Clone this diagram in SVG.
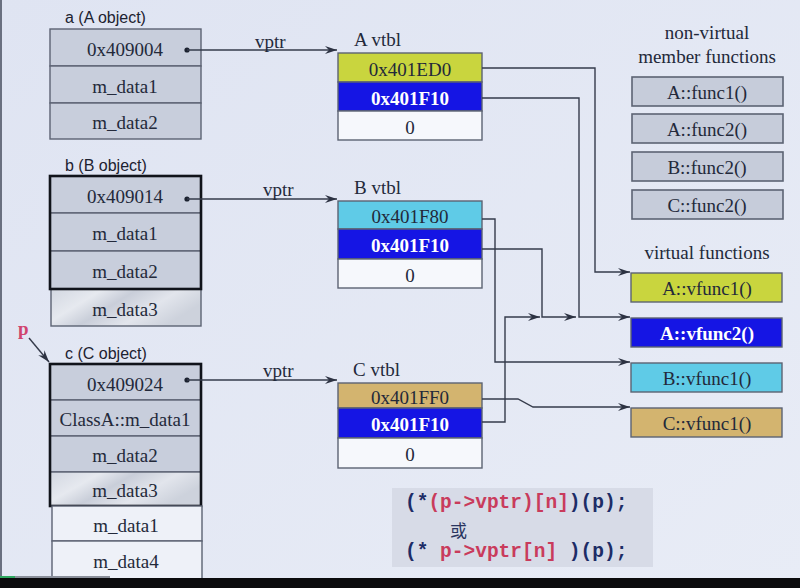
<svg xmlns="http://www.w3.org/2000/svg" width="800" height="588" viewBox="0 0 800 588">
<style>
.lbl{font-family:"Liberation Sans",Arial,sans-serif;font-size:16px;fill:#1c2230}
.t{font-family:"Liberation Serif","Times New Roman",serif;font-size:19px;fill:#23293a;text-anchor:middle;dominant-baseline:central}
.tb{font-family:"Liberation Serif","Times New Roman",serif;font-size:19px;font-weight:bold;fill:#ffffff;text-anchor:middle;dominant-baseline:central}
.hd{font-family:"Liberation Serif","Times New Roman",serif;font-size:19px;fill:#23293a}
.cell{fill:#c8cedc;stroke:#5c6373;stroke-width:1.4}
.tex{fill:url(#marble);stroke:#5c6373;stroke-width:1.4}
.wcell{fill:#eef1f8;stroke:#5c6373;stroke-width:1.4}
.thick{fill:none;stroke:#10131a;stroke-width:2.6}
.yg{fill:#c9d53e;stroke:#5c6373;stroke-width:1.4}
.bl{fill:#1515e4;stroke:#5c6373;stroke-width:1.4}
.cy{fill:#5fcbe7;stroke:#5c6373;stroke-width:1.4}
.tan{fill:#d3b46f;stroke:#5c6373;stroke-width:1.4}
.wh{fill:#f6f8fc;stroke:#5c6373;stroke-width:1.4}
.fn{fill:#c6ccda;stroke:#5c6373;stroke-width:1.6}
.ln{fill:none;stroke:#353b4b;stroke-width:1.4}
.code{font-family:"Liberation Mono","Courier New",monospace;font-size:19.5px;font-weight:bold;white-space:pre}
.nv{fill:#1d2c66}
.rd{fill:#c93b5c}
</style>
<defs>
<linearGradient id="bg" x1="0" y1="0" x2="1" y2="1">
<stop offset="0" stop-color="#dfe4f2"/>
<stop offset="1" stop-color="#e8ecf6"/>
</linearGradient>
<linearGradient id="marble" x1="0" y1="0" x2="1" y2="0.4">
<stop offset="0" stop-color="#d2d7e1"/>
<stop offset="0.3" stop-color="#e6e9ef"/>
<stop offset="0.5" stop-color="#c9ced9"/>
<stop offset="0.75" stop-color="#e2e5ec"/>
<stop offset="1" stop-color="#cdd2dc"/>
</linearGradient>
<marker id="ah" markerUnits="userSpaceOnUse" markerWidth="13" markerHeight="9" refX="12" refY="4.5" orient="auto">
<path d="M0,0.5 L12,4.5 L0,8.5 L4,4.5 z" fill="#2c3242"/>
</marker>
</defs>
<rect width="800" height="588" fill="url(#bg)"/>
<rect x="0" y="0" width="2" height="578" fill="#6a7080"/>

<g id="a-object">
<text class="lbl" x="65" y="23">a (A object)</text>
<rect class="cell" x="50" y="29" width="151" height="37"/>
<rect class="cell" x="50" y="66" width="151" height="37"/>
<rect class="cell" x="50" y="103" width="151" height="36"/>
<text class="t" x="125" y="49">0x409004</text>
<text class="t" x="125" y="86">m_data1</text>
<text class="t" x="125" y="122">m_data2</text>
<circle cx="187" cy="50" r="2.6" fill="#1c2230"/>
</g>

<g id="b-object">
<text class="lbl" x="65" y="171">b (B object)</text>
<rect class="cell" x="50" y="176" width="151" height="37"/>
<rect class="cell" x="50" y="213" width="151" height="38"/>
<rect class="cell" x="50" y="251" width="151" height="38"/>
<rect class="tex" x="51" y="289" width="150" height="37"/>
<rect class="thick" x="50" y="176" width="151" height="113"/>
<text class="t" x="125" y="196">0x409014</text>
<text class="t" x="125" y="233">m_data1</text>
<text class="t" x="125" y="271">m_data2</text>
<text class="t" x="125" y="309">m_data3</text>
<circle cx="187" cy="199" r="2.6" fill="#1c2230"/>
</g>

<g id="p-pointer">
<text x="18" y="335" font-family="Liberation Serif,serif" font-size="19" font-weight="bold" fill="#d0446e">p</text>
<path class="ln" d="M29,338 L49,362" marker-end="url(#ah)"/>
</g>

<g id="c-object">
<text class="lbl" x="65" y="359">c (C object)</text>
<rect class="cell" x="50" y="364" width="151" height="36"/>
<rect class="cell" x="50" y="400" width="151" height="36"/>
<rect class="cell" x="50" y="436" width="151" height="36"/>
<rect class="tex" x="50" y="472" width="151" height="34"/>
<rect class="thick" x="50" y="364" width="151" height="142"/>
<rect class="wcell" x="52" y="506" width="150" height="35"/>
<rect class="wcell" x="52" y="541" width="150" height="40"/>
<text class="t" x="125" y="384">0x409024</text>
<text class="t" x="125" y="419">ClassA::m_data1</text>
<text class="t" x="125" y="455">m_data2</text>
<text class="t" x="125" y="490">m_data3</text>
<text class="t" x="126" y="525">m_data1</text>
<text class="t" x="126" y="561">m_data4</text>
<circle cx="187" cy="380" r="2.6" fill="#1c2230"/>
</g>

<g id="a-vtbl">
<text class="hd" x="354" y="46">A vtbl</text>
<rect class="yg" x="338" y="53" width="144" height="29"/>
<rect class="bl" x="338" y="82" width="144" height="29"/>
<rect class="wh" x="338" y="111" width="144" height="29"/>
<text class="t" x="410" y="69">0x401ED0</text>
<text class="tb" x="410" y="98">0x401F10</text>
<text class="t" x="410" y="127">0</text>
</g>

<g id="b-vtbl">
<text class="hd" x="354" y="194">B vtbl</text>
<rect class="cy" x="338" y="201" width="144" height="28"/>
<rect class="bl" x="338" y="229" width="144" height="30"/>
<rect class="wh" x="338" y="259" width="144" height="29"/>
<text class="t" x="410" y="216">0x401F80</text>
<text class="tb" x="410" y="245">0x401F10</text>
<text class="t" x="410" y="275">0</text>
</g>

<g id="c-vtbl">
<text class="hd" x="353" y="376">C vtbl</text>
<rect class="tan" x="338" y="383" width="144" height="25"/>
<rect class="bl" x="338" y="408" width="144" height="30"/>
<rect class="wh" x="338" y="438" width="144" height="30"/>
<text class="t" x="410" y="397">0x401FF0</text>
<text class="tb" x="410" y="424">0x401F10</text>
<text class="t" x="410" y="454">0</text>
</g>

<g id="non-virtual">
<text class="hd" x="707" y="39" text-anchor="middle">non-virtual</text>
<text class="hd" x="707" y="63" text-anchor="middle">member functions</text>
<rect class="fn" x="632" y="77" width="151" height="29"/>
<rect class="fn" x="632" y="114" width="151" height="29"/>
<rect class="fn" x="632" y="152" width="151" height="29"/>
<rect class="fn" x="632" y="190" width="151" height="29"/>
<text class="t" x="707" y="92">A::func1()</text>
<text class="t" x="707" y="129">A::func2()</text>
<text class="t" x="707" y="167">B::func2()</text>
<text class="t" x="707" y="205">C::func2()</text>
</g>

<g id="virtual">
<text class="hd" x="707" y="259" text-anchor="middle">virtual functions</text>
<rect class="yg" x="631" y="273" width="151" height="29"/>
<rect class="bl" x="631" y="318" width="151" height="29"/>
<rect class="cy" x="631" y="363" width="151" height="29"/>
<rect class="tan" x="631" y="408" width="151" height="29"/>
<text class="t" x="707" y="288">A::vfunc1()</text>
<text class="tb" x="707" y="333">A::vfunc2()</text>
<text class="t" x="707" y="378">B::vfunc1()</text>
<text class="t" x="707" y="423">C::vfunc1()</text>
</g>

<g id="connectors">
<path class="ln" d="M187,50 H337" marker-end="url(#ah)"/>
<text class="hd" x="255" y="48">vptr</text>
<path class="ln" d="M187,199 H337" marker-end="url(#ah)"/>
<text class="hd" x="263" y="196">vptr</text>
<path class="ln" d="M187,380 H337" marker-end="url(#ah)"/>
<text class="hd" x="263" y="377">vptr</text>
<path class="ln" d="M482,68 H595 V272 H630" marker-end="url(#ah)"/>
<path class="ln" d="M482,98 H579 V317 H630" marker-end="url(#ah)"/>
<path class="ln" d="M482,219 H495 V362 H630" marker-end="url(#ah)"/>
<path class="ln" d="M482,249 H542 V317 H576" marker-end="url(#ah)"/>
<path class="ln" d="M482,399 H518 L533,407 H630" marker-end="url(#ah)"/>
<path class="ln" d="M482,422 H505 V317 H540" marker-end="url(#ah)"/>
</g>

<g id="code">
<rect x="392" y="488" width="261" height="79" fill="#d7dbe7"/>
<text class="code" x="405" y="508"><tspan class="nv">(*</tspan><tspan class="rd">(p-&gt;vptr)[n]</tspan><tspan class="nv">)(p);</tspan></text>
<text x="450" y="537" font-family="Noto Sans CJK SC,sans-serif" font-size="17" fill="#2a3560">或</text>
<text class="code" x="405" y="557"><tspan class="nv">(* </tspan><tspan class="rd">p-&gt;vptr[n]</tspan><tspan class="nv"> )(p);</tspan></text>
</g>

<rect x="0" y="576" width="110" height="2" fill="#8a8f9a"/>
<rect x="0" y="576" width="15" height="2" fill="#2fa860"/>
<rect x="0" y="578" width="800" height="10" fill="#0b0b0d"/>
</svg>
